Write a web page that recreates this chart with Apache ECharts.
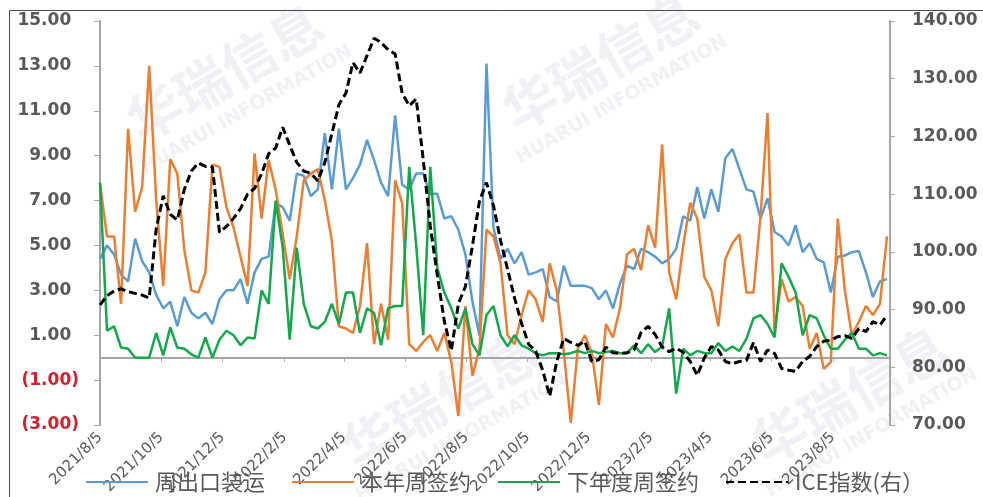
<!DOCTYPE html>
<html>
<head>
<meta charset="utf-8">
<script src="https://cdn.jsdelivr.net/npm/echarts@6/dist/echarts.min.js"></script>
<style>
  html, body { margin: 0; padding: 0; background: #ffffff; }
  #chart { width: 983px; height: 497px; }
</style>
</head>
<body>
<div id="chart"></div>
<script>
// Weekly series, first week 2021/8/5
const firstWeek = '2021/8/5';
const lastAxisDay = '2023/10/1';

const seriesNames = ['周出口装运', '本年周签约', '下年度周签约', 'ICE指数(右）'];

// 周出口装运
const weeklyShipments = [
  4.4, 5.0, 4.6, 3.7, 3.4, 5.3, 4.3, 3.8, 2.8, 2.2,
  2.5, 1.4, 2.7, 2.0, 1.75, 2.0, 1.5, 2.6, 3.0, 3.0,
  3.5, 2.4, 3.8, 4.4, 4.5, 6.9, 6.7, 6.1, 8.2, 8.1,
  7.2, 7.5, 10.0, 7.5, 10.2, 7.5, 8.0, 8.6, 9.7, 8.8,
  7.8, 7.2, 10.8, 7.7, 7.5, 8.2, 8.2, 7.3, 7.3, 6.2,
  6.3, 5.7, 4.6, 2.5, 1.0, 13.1, 5.8, 4.4, 4.85, 4.2,
  4.7, 3.7, 3.8, 3.95, 2.7, 2.5, 4.1, 3.2, 3.2, 3.2,
  3.1, 2.6, 3.0, 2.2, 3.3, 4.1, 3.95, 4.85, 4.7, 4.5,
  4.2, 4.4, 4.85, 6.3, 6.1, 7.6, 6.2, 7.5, 6.5, 8.9,
  9.3, 8.4, 7.5, 7.4, 6.2, 7.1, 5.6, 5.4, 5.0, 5.9,
  4.7, 5.1, 4.4, 4.25, 2.9, 4.5, 4.55, 4.7, 4.75, 3.8,
  2.7, 3.4, 3.5
];

// 本年周签约
const currentYearSales = [
  7.75, 5.4, 5.4, 2.4, 10.2, 6.5, 7.6, 13.0, 7.0, 3.2,
  8.85, 8.2, 4.8, 3.0, 2.9, 3.8, 8.6, 8.5, 6.7, 5.8,
  4.5, 3.2, 9.1, 6.2, 8.8, 7.5, 5.5, 3.5, 5.4, 7.9,
  8.2, 8.4, 7.0, 5.2, 1.4, 1.3, 1.1, 2.3, 5.1, 0.6,
  2.4, 0.8, 7.9, 6.9, 0.6, 0.3, 0.7, 1.0, 0.3, 1.1,
  -0.2, -2.6, 2.3, -0.8, 0.4, 5.7, 5.4, 4.2, 1.0, 0.6,
  1.9, 3.0, 2.6, 1.6, 4.2, 3.0, 0.3, -2.9, 0.4, 1.0,
  0.2, -2.1, 1.5, 0.9, 2.2, 4.6, 4.85, 3.9, 5.9, 4.9,
  9.5, 3.8, 2.6, 5.0, 6.9, 6.2, 3.6, 3.0, 1.4, 4.4,
  5.1, 5.5, 2.9, 2.9, 6.3, 10.9, 1.1, 3.5, 2.5, 2.7,
  2.3, 0.4, 1.1, -0.5, -0.2, 6.2, 3.0, 1.0, 1.6, 2.3,
  1.9, 2.4, 5.4
];

// 下年度周签约
const nextYearSales = [
  7.8, 1.2, 1.4, 0.45, 0.4, 0, 0, 0, 1.1, 0.1,
  1.35, 0.45, 0.4, 0.15, 0, 0.9, 0, 0.8, 1.2, 1.0,
  0.55, 0.9, 0.85, 3.0, 2.4, 7.0, 4.9, 0.8, 4.9, 2.4,
  1.4, 1.3, 1.6, 2.4, 1.5, 2.9, 2.9, 1.1, 2.2, 2.0,
  0.55, 2.2, 2.3, 2.3, 8.5, 5.0, 1.0, 8.5, 4.0, 2.9,
  2.2, 1.3, 2.2, 0.6, 0.1, 1.9, 2.3, 1.0, 0.5, 1.0,
  0.55, 0.4, 0.2, 0.1, 0.2, 0.2, 0.15, 0.2, 0.3, 0.2,
  0.3, 0.2, 0.25, 0.3, 0.2, 0.2, 0.55, 0.2, 0.6, 0.25,
  0.5, 2.2, -1.6, 0.4, 0.1, 0.3, 0.2, 0.2, 0.65, 0.3,
  0.5, 0.3, 0.85, 1.75, 1.9, 1.5, 0.9, 4.2, 3.6, 2.9,
  1.0, 1.9, 1.75, 1.0, 0.4, 0.4, 0.8, 1.1, 0.4, 0.4,
  0.1, 0.2, 0.1
];

// ICE指数 (right axis)
const iceIndex = [
  90.8, 92.4, 93.2, 93.6, 93.1, 92.8, 92.5, 92.0, 104.0, 109.7,
  106.5, 105.5, 110.8, 114.0, 115.4, 114.8, 114.7, 103.4, 104.4, 105.8,
  107.5, 110.0, 111.0, 113.5, 117.0, 118.0, 121.6, 118.5, 115.5, 114.0,
  113.6, 112.3, 115.5, 120.5, 125.5, 127.5, 132.8, 131.0, 134.0, 137.0,
  136.3, 135.0, 134.3, 127.5, 125.3, 126.5, 116.0, 104.5, 96.0, 88.0,
  82.9, 91.0, 94.0, 101.0, 108.8, 112.0, 108.0, 102.0, 97.0, 92.0,
  87.6, 84.0, 82.8, 79.5, 75.0, 81.0, 85.0, 84.3, 83.8, 84.5,
  81.0, 81.3, 83.5, 82.5, 82.4, 82.5, 83.0, 86.0, 87.1, 85.7,
  83.5, 82.7, 83.3, 82.6, 81.0, 78.6, 81.6, 83.6, 83.0, 81.0,
  80.6, 81.0, 81.2, 84.3, 81.0, 83.0, 82.4, 79.8, 79.5, 79.3,
  81.0, 81.9, 83.6, 84.5, 84.7, 85.3, 85.5, 85.0, 86.7, 86.2,
  87.9, 87.3, 89.0
];

const dateTickLabels = [
  '2021/8/5', '2021/10/5', '2021/12/5', '2022/2/5', '2022/4/5', '2022/6/5',
  '2022/8/5', '2022/10/5', '2022/12/5', '2023/2/5', '2023/4/5', '2023/6/5', '2023/8/5'
];
const leftTicks = [-3, -1, 1, 3, 5, 7, 9, 11, 13, 15];

// dates are placed on a numeric day axis counted from the first week
const DAY = 86400000;
function parseDay(s) {
  const p = s.split('/').map(Number);
  return Date.UTC(p[0], p[1] - 1, p[2]);
}
const startT = parseDay(firstWeek);
const dayOffset = s => Math.round((parseDay(s) - startT) / DAY);
const tickDays = dateTickLabels.map(dayOffset);
const tickText = {};
tickDays.forEach((d, i) => { tickText[d] = dateTickLabels[i]; });

const weekDays = weeklyShipments.map((_, i) => 7 * i);
const pair = arr => arr.map((v, i) => [weekDays[i], v]);

const numFont = 'DejaVu Sans';
const cjkFont = 'Noto Sans CJK SC';
const gray = '#595959';

// faint company watermark tiles
function watermark(cx, cy) {
  const rot = 0.52;
  const fill = 'rgba(200,206,216,0.28)';
  return [
    { type: 'text', x: cx, y: cy, rotation: rot, z: -10, silent: true,
      style: { text: '华瑞信息', font: 'bold 54px "Noto Sans CJK SC"', fill: fill,
               align: 'center', verticalAlign: 'middle' } },
    { type: 'text', x: cx + 22, y: cy + 38, rotation: rot, z: -10, silent: true,
      style: { text: 'HUARUI INFORMATION', font: 'bold 19px "DejaVu Sans"', fill: fill,
               align: 'center', verticalAlign: 'middle' } }
  ];
}

const chart = echarts.init(document.getElementById('chart'), null, { renderer: 'canvas' });

chart.setOption({
  backgroundColor: '#ffffff',
  animation: false,
  graphic: [
    { type: 'rect', shape: { x: 9.5, y: 10.5, width: 1000, height: 600 }, z: 100, silent: true,
      style: { fill: 'none', stroke: '#4d4d4d', lineWidth: 1 } },
    ...watermark(225, 72),
    ...watermark(600, 62),
    ...watermark(440, 400),
    ...watermark(850, 395)
  ],
  grid: { left: 100, right: 93, top: 21, bottom: 72, containLabel: false },
  legend: {
    left: 80, top: 466,
    itemWidth: 62, itemHeight: 14, itemGap: 26,
    itemStyle: { opacity: 0 },
    textStyle: { fontFamily: cjkFont, fontSize: 22, color: gray, padding: [0, 0, 0, 2] },
    data: seriesNames
  },
  xAxis: {
    type: 'value',
    min: 0,
    max: dayOffset(lastAxisDay),
    splitLine: { show: false },
    axisLine: { onZero: true, onZeroAxisIndex: 0, lineStyle: { color: '#a6a6a6', width: 2 } },
    axisTick: { show: true, customValues: tickDays, length: 4, lineStyle: { color: '#a6a6a6', width: 1 } },
    axisLabel: {
      customValues: tickDays,
      rotate: 45, margin: 10,
      fontFamily: numFont, fontSize: 15, color: gray,
      formatter: v => tickText[Math.round(v)] || '',
      hideOverlap: false
    }
  },
  yAxis: [
    {
      type: 'value', min: -3, max: 15,
      splitLine: { show: false },
      axisLine: { show: true, onZero: false, lineStyle: { color: '#a6a6a6', width: 2 } },
      axisTick: { show: true, customValues: leftTicks, length: 6, lineStyle: { color: '#a6a6a6' } },
      axisLabel: {
        customValues: leftTicks, margin: 21,
        formatter: v => v < 0 ? '{n|(' + Math.abs(v).toFixed(2) + ')}' : '{p|' + v.toFixed(2) + '}{h|)}',
        rich: {
          n: { fontFamily: numFont, fontSize: 17, color: '#d0202e', fontWeight: 'bold' },
          p: { fontFamily: numFont, fontSize: 17, color: gray, fontWeight: 'bold' },
          h: { fontFamily: numFont, fontSize: 17, color: 'rgba(0,0,0,0)', fontWeight: 'bold' }
        }
      }
    },
    {
      type: 'value', min: 70, max: 140, interval: 10, position: 'right',
      splitLine: { show: false },
      axisLine: { show: true, onZero: false, lineStyle: { color: '#a6a6a6', width: 2 } },
      axisTick: { show: true, length: 5, lineStyle: { color: '#a6a6a6' } },
      axisLabel: {
        margin: 22, fontFamily: numFont, fontSize: 17, color: gray, fontWeight: 'bold',
        formatter: v => v.toFixed(2)
      }
    }
  ],
  series: [
    { name: seriesNames[0], type: 'line', yAxisIndex: 0, symbol: 'none', data: pair(weeklyShipments),
      color: '#5b9bd5', lineStyle: { color: '#5b9bd5', width: 2.5 } },
    { name: seriesNames[1], type: 'line', yAxisIndex: 0, symbol: 'none', data: pair(currentYearSales),
      color: '#ed7d31', lineStyle: { color: '#ed7d31', width: 2.5 } },
    { name: seriesNames[2], type: 'line', yAxisIndex: 0, symbol: 'none', data: pair(nextYearSales),
      color: '#13a84a', lineStyle: { color: '#13a84a', width: 2.5 } },
    { name: seriesNames[3], type: 'line', yAxisIndex: 1, symbol: 'none', data: pair(iceIndex),
      color: '#000000', lineStyle: { color: '#000000', width: 3, type: [8, 4] } }
  ]
});
</script>
</body>
</html>
